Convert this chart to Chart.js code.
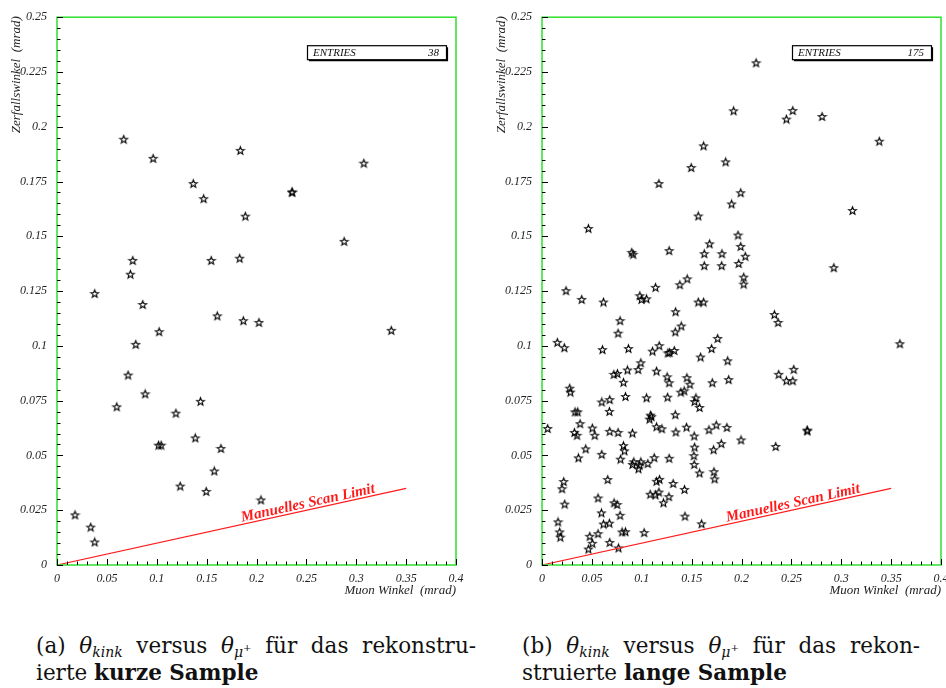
<!DOCTYPE html>
<html>
<head>
<meta charset="utf-8">
<script src="https://cdn.jsdelivr.net/npm/chart.js@4.4.1/dist/chart.umd.min.js"></script>
<style>
  body { margin: 0; width: 946px; height: 688px; overflow: hidden; background: #fff; position: relative; }
  canvas { position: absolute; top: 0; }
  #chartA { left: 0; }
  #chartB { left: 485px; }
  .caption { position: absolute; font-family: "DejaVu Serif", serif; font-size: 21.5px; line-height: 27px; color: #111; }
  .caption .l1 { text-align: justify; text-align-last: justify; white-space: nowrap; }
  .caption sub { font-size: 14px; vertical-align: -4px; line-height: 0; }
  .caption sup { font-size: 10px; vertical-align: 6px; line-height: 0; }
  #capA { left: 36px; top: 632px; width: 440px; }
  #capB { left: 522px; top: 632px; width: 398px; }
</style>
</head>
<body>
<canvas id="chartA" width="473" height="610"></canvas>
<canvas id="chartB" width="473" height="610"></canvas>

<div class="caption" id="capA">
  <div class="l1">(a) <i>θ</i><sub><i>kink</i></sub> versus <i>θ</i><sub><i>μ</i><sup>+</sup></sub> für das rekonstru-</div>
  <div>ierte <b>kurze Sample</b></div>
</div>
<div class="caption" id="capB">
  <div class="l1">(b) <i>θ</i><sub><i>kink</i></sub> versus <i>θ</i><sub><i>μ</i><sup>+</sup></sub> für das rekon-</div>
  <div>struierte <b>lange Sample</b></div>
</div>

<script>
// kurzes Sample (38 Eintraege)
const kurzX = [0.0669, 0.0964, 0.1838, 0.3076, 0.1366, 0.1470, 0.2357, 0.2357, 0.1888, 0.2879,
  0.0760, 0.1546, 0.1831, 0.0736, 0.0378, 0.0860, 0.1607, 0.1868, 0.2025, 0.3351,
  0.1024, 0.0790, 0.0713, 0.0884, 0.0599, 0.1439, 0.1192, 0.1386, 0.1018, 0.1044,
  0.1644, 0.1577, 0.1235, 0.1496, 0.2045, 0.0181, 0.0338, 0.0378];
const kurzY = [0.1943, 0.1856, 0.1892, 0.1834, 0.1741, 0.1672, 0.1701, 0.1703, 0.1592, 0.1477,
  0.1390, 0.1390, 0.1400, 0.1327, 0.1239, 0.1189, 0.1137, 0.1115, 0.1107, 0.1071,
  0.1065, 0.1007, 0.0867, 0.0781, 0.0722, 0.0747, 0.0693, 0.0580, 0.0547, 0.0547,
  0.0532, 0.0429, 0.0360, 0.0336, 0.0297, 0.0229, 0.0173, 0.0105];

// langes Sample (175 Eintraege)
const langX = [0.2146, 0.1921, 0.2450, 0.2514, 0.2808, 0.3381, 0.1620, 0.1841, 0.1496, 0.1172,
  0.1992, 0.1901, 0.1567, 0.3113, 0.0465, 0.1965, 0.1680, 0.1992, 0.0900, 0.0914,
  0.1275, 0.1627, 0.1804, 0.2038, 0.1972, 0.1627, 0.1801, 0.2926, 0.2022, 0.2022,
  0.1456, 0.1382, 0.1138, 0.0241, 0.0398, 0.0616, 0.0981, 0.0997, 0.1048, 0.1567,
  0.1620, 0.1339, 0.0783, 0.2330, 0.2367, 0.1396, 0.0763, 0.1336, 0.1761, 0.3588,
  0.0154, 0.0224, 0.0606, 0.0867, 0.1175, 0.1108, 0.1262, 0.1279, 0.1326, 0.1700,
  0.1590, 0.1861, 0.0991, 0.0964, 0.0857, 0.1148, 0.0720, 0.0756, 0.0817, 0.1255,
  0.1275, 0.1453, 0.1483, 0.1707, 0.1871, 0.2373, 0.2524, 0.2450, 0.2514, 0.0278,
  0.0285, 0.1392, 0.1426, 0.0837, 0.1048, 0.1259, 0.1543, 0.1530, 0.1580, 0.0599,
  0.0679, 0.0676, 0.0331, 0.0358, 0.1088, 0.1098, 0.1078, 0.1336, 0.0382, 0.0057,
  0.0505, 0.1148, 0.1202, 0.1449, 0.1674, 0.1747, 0.1854, 0.2658, 0.2660, 0.0325,
  0.0351, 0.0529, 0.0679, 0.0763, 0.0907, 0.1342, 0.1526, 0.1995, 0.0438, 0.0817,
  0.0827, 0.1530, 0.1797, 0.1720, 0.2343, 0.0365, 0.0599, 0.0787, 0.1125, 0.1275,
  0.1523, 0.0920, 0.0907, 0.0991, 0.0977, 0.0967, 0.1061, 0.1526, 0.1580, 0.1724,
  0.1731, 0.0659, 0.0218, 0.0201, 0.0228, 0.1148, 0.1178, 0.1315, 0.1429, 0.1085,
  0.1138, 0.1172, 0.1272, 0.1218, 0.0562, 0.0723, 0.0753, 0.0596, 0.0783, 0.0616,
  0.0676, 0.1433, 0.1600, 0.0161, 0.0177, 0.0184, 0.0562, 0.0803, 0.0837, 0.1024,
  0.0479, 0.0505, 0.0465, 0.0679, 0.0767];
const langY = [0.2292, 0.2073, 0.2035, 0.2074, 0.2047, 0.1934, 0.1913, 0.1840, 0.1814, 0.1741,
  0.1699, 0.1648, 0.1593, 0.1618, 0.1536, 0.1506, 0.1466, 0.1454, 0.1427, 0.1418,
  0.1435, 0.1421, 0.1421, 0.1409, 0.1376, 0.1366, 0.1366, 0.1357, 0.1314, 0.1282,
  0.1306, 0.1279, 0.1267, 0.1252, 0.1212, 0.1200, 0.1229, 0.1212, 0.1215, 0.1200,
  0.1200, 0.1156, 0.1115, 0.1143, 0.1107, 0.1091, 0.1058, 0.1064, 0.1034, 0.1010,
  0.1016, 0.0992, 0.0983, 0.0988, 0.1001, 0.0976, 0.0968, 0.0970, 0.0979, 0.0988,
  0.0949, 0.0932, 0.0923, 0.0892, 0.0890, 0.0885, 0.0870, 0.0874, 0.0834, 0.0859,
  0.0832, 0.0855, 0.0825, 0.0832, 0.0846, 0.0870, 0.0893, 0.0841, 0.0841, 0.0807,
  0.0789, 0.0789, 0.0795, 0.0769, 0.0763, 0.0766, 0.0763, 0.0746, 0.0719, 0.0744,
  0.0755, 0.0701, 0.0699, 0.0699, 0.0684, 0.0677, 0.0666, 0.0686, 0.0645, 0.0623,
  0.0625, 0.0631, 0.0622, 0.0629, 0.0617, 0.0639, 0.0628, 0.0616, 0.0612, 0.0605,
  0.0592, 0.0592, 0.0610, 0.0605, 0.0602, 0.0607, 0.0589, 0.0571, 0.0530, 0.0545,
  0.0521, 0.0538, 0.0554, 0.0526, 0.0541, 0.0489, 0.0505, 0.0483, 0.0490, 0.0487,
  0.0499, 0.0471, 0.0459, 0.0471, 0.0456, 0.0439, 0.0463, 0.0459, 0.0420, 0.0426,
  0.0393, 0.0390, 0.0381, 0.0348, 0.0278, 0.0382, 0.0391, 0.0372, 0.0345, 0.0323,
  0.0320, 0.0333, 0.0312, 0.0284, 0.0306, 0.0284, 0.0276, 0.0238, 0.0227, 0.0187,
  0.0191, 0.0223, 0.0188, 0.0197, 0.0151, 0.0127, 0.0143, 0.0151, 0.0152, 0.0148,
  0.0131, 0.0099, 0.0073, 0.0103, 0.0078];

// Manuelles Scan Limit
const limitX = [0, 0.35];
const limitY = [0, 0.035];

const xTitle = 'Muon Winkel  (mrad)';
const yTitle = 'Zerfallswinkel  (mrad)';
const limitLabel = 'Manuelles Scan Limit';

const serif = '"Liberation Serif", Tinos, "Times New Roman", serif';

function fmt(v) {
  return String(Number(v.toFixed(3)));
}

function makeStar() {
  const c = document.createElement('canvas');
  c.width = 11; c.height = 11;
  const g = c.getContext('2d');
  g.beginPath();
  for (let i = 0; i < 10; i++) {
    const r = i % 2 ? 1.7 : 4.0;
    const a = -Math.PI / 2 + i * Math.PI / 5;
    g.lineTo(5.5 + r * Math.cos(a), 5.9 + r * Math.sin(a));
  }
  g.closePath();
  g.lineWidth = 1.15;
  g.strokeStyle = '#000';
  g.stroke();
  return c;
}
const star = makeStar();

// frame, inner ticks, titles, entries box and scan label
const deco = {
  id: 'deco',
  afterDatasetsDraw(chart, args, opts) {
    const ctx = chart.ctx;
    const a = chart.chartArea;
    const xs = chart.scales.x, ys = chart.scales.y;
    ctx.save();

    // scan limit label, along the red line
    const p0x = xs.getPixelForValue(limitX[0]), p0y = ys.getPixelForValue(limitY[0]);
    const p1x = xs.getPixelForValue(limitX[1]), p1y = ys.getPixelForValue(limitY[1]);
    const ang = Math.atan2(p1y - p0y, p1x - p0x);
    const ax = 0.186;
    const ay = ax * limitY[1] / limitX[1];
    ctx.translate(xs.getPixelForValue(ax), ys.getPixelForValue(ay));
    ctx.rotate(ang);
    ctx.fillStyle = '#ff1a1a';
    ctx.font = 'italic bold 15px ' + serif;
    ctx.textBaseline = 'alphabetic';
    ctx.textAlign = 'left';
    ctx.fillText(limitLabel, 0, -2.5);
    ctx.restore();

    ctx.save();
    // green frame
    ctx.strokeStyle = '#2ee02e';
    ctx.lineWidth = 1.5;
    ctx.strokeRect(a.left, a.top, a.right - a.left, a.bottom - a.top);

    // ticks inside the frame
    ctx.strokeStyle = '#000';
    ctx.lineWidth = 1;
    ctx.beginPath();
    for (let i = 0; i <= 50; i++) {
      const y = Math.round(ys.getPixelForValue(i * 0.005)) + 0.5;
      const len = i % 5 === 0 ? 6 : 3.5;
      ctx.moveTo(a.left, y);
      ctx.lineTo(a.left + len, y);
    }
    for (let i = 0; i <= 40; i++) {
      const x = Math.round(xs.getPixelForValue(i * 0.01)) + 0.5;
      const len = i % 5 === 0 ? 6 : 3.5;
      ctx.moveTo(x, a.bottom);
      ctx.lineTo(x, a.bottom - len);
    }
    ctx.stroke();

    // axis titles
    ctx.fillStyle = '#222';
    ctx.font = 'italic 13px ' + serif;
    ctx.textAlign = 'right';
    ctx.textBaseline = 'middle';
    ctx.fillText(xTitle, a.right, a.bottom + 26);
    ctx.save();
    ctx.translate(17, a.top - 1);
    ctx.rotate(-Math.PI / 2);
    ctx.fillText(yTitle, 0, 0);
    ctx.restore();

    // entries box
    const bw = 139, bh = 14;
    const bx = a.right - 10 - bw, by = a.top + 28;
    ctx.fillStyle = '#fff';
    ctx.fillRect(bx, by, bw, bh);
    ctx.strokeStyle = '#000';
    ctx.lineWidth = 1.2;
    ctx.strokeRect(bx + 0.5, by + 0.5, bw, bh);
    ctx.beginPath();
    ctx.moveTo(bx + 2, by + bh + 1.5);
    ctx.lineTo(bx + bw + 1.5, by + bh + 1.5);
    ctx.lineTo(bx + bw + 1.5, by + 2);
    ctx.stroke();
    ctx.fillStyle = '#111';
    ctx.font = 'italic 11px ' + serif;
    ctx.textBaseline = 'middle';
    ctx.textAlign = 'left';
    ctx.fillText('ENTRIES', bx + 6, by + bh / 2 + 1);
    ctx.textAlign = 'right';
    ctx.fillText(String(opts.entries), bx + bw - 7, by + bh / 2 + 1);
    ctx.restore();
  }
};

function makeChart(id, xsData, ysData) {
  const pts = xsData.map((x, i) => ({ x: x, y: ysData[i] }));
  const lim = limitX.map((x, i) => ({ x: x, y: limitY[i] }));
  const tickFont = { family: serif, style: 'italic', size: 12 };
  return new Chart(document.getElementById(id).getContext('2d'), {
    type: 'scatter',
    data: {
      datasets: [{
        type: 'line',
        data: lim,
        borderColor: '#ff1a1a',
        borderWidth: 1.2,
        pointRadius: 0,
        fill: false
      }, {
        data: pts,
        pointStyle: star,
        pointRadius: 5,
        pointHoverRadius: 5
      }]
    },
    options: {
      responsive: false,
      animation: false,
      events: [],
      layout: { padding: { top: 7, right: 17, left: 0, bottom: 0 } },
      plugins: {
        legend: { display: false },
        tooltip: { enabled: false },
        deco: { entries: xsData.length }
      },
      scales: {
        x: {
          type: 'linear', min: 0, max: 0.4,
          grid: { display: false, drawTicks: false },
          border: { display: false },
          ticks: { stepSize: 0.05, padding: 7, autoSkip: false, maxRotation: 0,
                   font: tickFont, color: '#222', callback: v => fmt(v) },
          afterFit: s => { s.height = 45; }
        },
        y: {
          type: 'linear', min: 0, max: 0.25,
          grid: { display: false, drawTicks: false },
          border: { display: false },
          ticks: { stepSize: 0.025, padding: 10, autoSkip: false,
                   font: tickFont, color: '#222', callback: v => fmt(v) },
          afterFit: s => { s.width = 57; }
        }
      }
    },
    plugins: [deco]
  });
}

function drawAll() {
  makeChart('chartA', kurzX, kurzY);
  makeChart('chartB', langX, langY);
}

Promise.all([
  document.fonts.load('italic 12px "Liberation Serif"'),
  document.fonts.load('italic bold 15px "Liberation Serif"')
]).then(drawAll, drawAll);
</script>
</body>
</html>
